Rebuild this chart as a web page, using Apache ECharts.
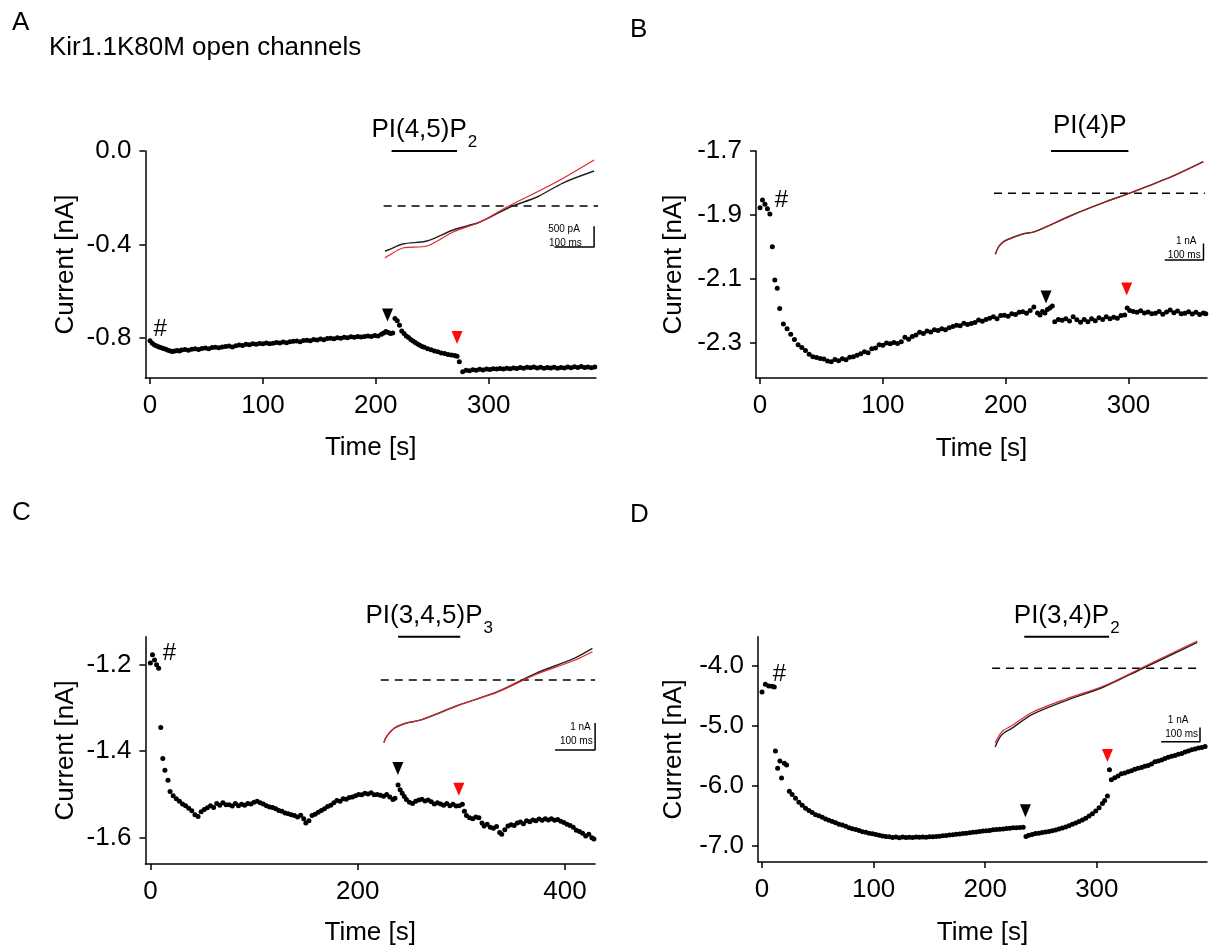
<!DOCTYPE html>
<html><head><meta charset="utf-8">
<script src="https://cdn.jsdelivr.net/npm/echarts@6/dist/echarts.min.js"></script>
<style>html,body{margin:0;padding:0;background:#fff}#chart{width:1212px;height:947px}</style>
</head><body><div id="chart"></div><script>
// ---------------- DATA ----------------
// Main time courses: [time s, current nA]
const dataA = [[0,-0.812],[2,-0.822],[4,-0.830],[6,-0.834],[8,-0.838],[10,-0.842],[12,-0.845],[14,-0.848],[16,-0.852],[18,-0.855],[20,-0.858],[22,-0.856],[24,-0.853],[26,-0.855],[28,-0.851],[31,-0.849],[34,-0.852],[37,-0.848],[40,-0.846],[43,-0.849],[46,-0.845],[49,-0.843],[52,-0.846],[55,-0.841],[58,-0.839],[61,-0.842],[64,-0.838],[67,-0.836],[70,-0.834],[73,-0.838],[76,-0.833],[79,-0.830],[82,-0.832],[85,-0.827],[88,-0.829],[91,-0.825],[94,-0.827],[97,-0.823],[100,-0.824],[103,-0.821],[106,-0.825],[109,-0.822],[112,-0.819],[115,-0.821],[118,-0.817],[121,-0.820],[124,-0.816],[127,-0.814],[130,-0.813],[133,-0.816],[136,-0.811],[139,-0.809],[142,-0.812],[145,-0.806],[148,-0.808],[151,-0.804],[154,-0.807],[157,-0.802],[160,-0.801],[163,-0.803],[166,-0.799],[169,-0.801],[172,-0.797],[175,-0.799],[178,-0.795],[181,-0.797],[184,-0.793],[187,-0.796],[190,-0.794],[193,-0.791],[196,-0.793],[199,-0.789],[202,-0.791],[205,-0.784],[207,-0.778],[209,-0.772],[211,-0.776],[213,-0.781],[215,-0.779],[217,-0.716],[219,-0.726],[221,-0.745],[223,-0.770],[225,-0.781],[227,-0.791],[229,-0.798],[231,-0.806],[233,-0.813],[235,-0.819],[237,-0.826],[239,-0.831],[241,-0.836],[243,-0.840],[246,-0.846],[249,-0.850],[252,-0.856],[255,-0.859],[258,-0.864],[261,-0.866],[264,-0.871],[267,-0.873],[270,-0.875],[272,-0.878],[274,-0.901],[277,-0.944],[280,-0.938],[283,-0.940],[286,-0.936],[289,-0.938],[292,-0.934],[295,-0.937],[298,-0.933],[301,-0.935],[304,-0.931],[307,-0.933],[310,-0.930],[313,-0.933],[316,-0.929],[319,-0.931],[322,-0.928],[325,-0.930],[328,-0.926],[331,-0.929],[334,-0.925],[337,-0.927],[340,-0.924],[343,-0.928],[346,-0.925],[349,-0.929],[352,-0.926],[355,-0.928],[358,-0.925],[361,-0.929],[364,-0.926],[367,-0.928],[370,-0.924],[373,-0.927],[376,-0.923],[379,-0.926],[382,-0.922],[385,-0.926],[388,-0.924],[391,-0.927],[394,-0.924]];
const dataB = [[0,-1.877],[2,-1.853],[4,-1.866],[6,-1.880],[8,-1.897],[10,-1.999],[12,-2.103],[14,-2.129],[16,-2.192],[19,-2.240],[22,-2.255],[25,-2.272],[28,-2.289],[31,-2.305],[34,-2.314],[37,-2.323],[40,-2.335],[43,-2.343],[46,-2.345],[49,-2.348],[52,-2.350],[55,-2.356],[58,-2.358],[61,-2.351],[64,-2.355],[67,-2.349],[70,-2.352],[73,-2.344],[76,-2.343],[79,-2.338],[82,-2.333],[85,-2.327],[88,-2.330],[91,-2.318],[94,-2.315],[97,-2.305],[100,-2.307],[103,-2.300],[106,-2.302],[109,-2.298],[112,-2.301],[115,-2.296],[118,-2.282],[121,-2.288],[124,-2.279],[127,-2.275],[130,-2.266],[133,-2.270],[136,-2.262],[139,-2.265],[142,-2.258],[145,-2.261],[148,-2.255],[151,-2.258],[154,-2.252],[157,-2.248],[160,-2.244],[163,-2.246],[166,-2.238],[169,-2.242],[172,-2.239],[175,-2.236],[178,-2.228],[181,-2.232],[184,-2.226],[187,-2.222],[190,-2.218],[193,-2.224],[196,-2.214],[199,-2.213],[202,-2.216],[205,-2.208],[208,-2.211],[211,-2.204],[214,-2.202],[217,-2.207],[220,-2.198],[223,-2.187],[226,-2.206],[228,-2.212],[230,-2.201],[232,-2.206],[234,-2.195],[236,-2.190],[238,-2.184],[240,-2.233],[243,-2.226],[246,-2.229],[249,-2.224],[252,-2.231],[255,-2.218],[258,-2.227],[261,-2.235],[264,-2.226],[267,-2.233],[270,-2.224],[273,-2.230],[276,-2.221],[279,-2.226],[282,-2.218],[285,-2.224],[288,-2.219],[291,-2.222],[294,-2.214],[297,-2.212],[299,-2.190],[301,-2.198],[304,-2.201],[307,-2.204],[310,-2.199],[313,-2.206],[316,-2.203],[319,-2.208],[322,-2.207],[325,-2.201],[328,-2.210],[331,-2.203],[334,-2.197],[337,-2.205],[340,-2.200],[343,-2.208],[346,-2.207],[349,-2.202],[352,-2.209],[355,-2.204],[358,-2.211],[361,-2.206],[363,-2.208]];
const dataC = [[0,-1.196],[2,-1.177],[4,-1.189],[6,-1.200],[8,-1.208],[10,-1.345],[12,-1.417],[14,-1.444],[17,-1.467],[19,-1.493],[22,-1.503],[25,-1.510],[28,-1.516],[31,-1.522],[34,-1.526],[37,-1.532],[40,-1.538],[43,-1.547],[46,-1.551],[49,-1.540],[52,-1.535],[55,-1.531],[58,-1.526],[61,-1.530],[64,-1.521],[67,-1.525],[70,-1.519],[73,-1.524],[76,-1.524],[79,-1.527],[82,-1.521],[85,-1.526],[88,-1.523],[91,-1.525],[94,-1.521],[97,-1.522],[100,-1.518],[103,-1.516],[106,-1.519],[109,-1.522],[112,-1.526],[115,-1.529],[118,-1.530],[121,-1.533],[124,-1.537],[127,-1.539],[130,-1.543],[133,-1.545],[136,-1.547],[139,-1.549],[142,-1.552],[145,-1.548],[148,-1.556],[150,-1.566],[153,-1.561],[156,-1.549],[159,-1.546],[162,-1.541],[165,-1.537],[168,-1.533],[171,-1.528],[174,-1.525],[177,-1.519],[180,-1.514],[183,-1.516],[186,-1.510],[189,-1.511],[192,-1.507],[195,-1.506],[198,-1.503],[201,-1.500],[204,-1.501],[207,-1.497],[210,-1.499],[213,-1.496],[216,-1.501],[219,-1.500],[222,-1.502],[225,-1.504],[228,-1.500],[231,-1.506],[234,-1.512],[236,-1.509],[239,-1.478],[241,-1.489],[243,-1.497],[245,-1.505],[247,-1.512],[250,-1.518],[253,-1.521],[256,-1.516],[259,-1.513],[262,-1.511],[265,-1.515],[268,-1.513],[271,-1.517],[274,-1.522],[277,-1.519],[280,-1.522],[283,-1.525],[286,-1.521],[289,-1.526],[292,-1.523],[295,-1.527],[298,-1.526],[301,-1.523],[303,-1.539],[305,-1.549],[308,-1.554],[311,-1.556],[314,-1.552],[317,-1.554],[320,-1.566],[322,-1.573],[325,-1.569],[328,-1.576],[331,-1.578],[334,-1.574],[337,-1.588],[339,-1.592],[342,-1.582],[345,-1.573],[348,-1.570],[351,-1.572],[354,-1.566],[357,-1.564],[360,-1.568],[363,-1.561],[366,-1.563],[369,-1.559],[372,-1.561],[375,-1.557],[378,-1.560],[381,-1.556],[384,-1.559],[387,-1.556],[390,-1.560],[393,-1.558],[396,-1.562],[399,-1.565],[402,-1.569],[405,-1.572],[408,-1.576],[411,-1.583],[414,-1.586],[417,-1.590],[420,-1.596],[423,-1.592],[426,-1.600],[428,-1.603]];
const dataD = [[0,-4.439],[3,-4.312],[6,-4.340],[9,-4.345],[11,-4.355],[12,-5.426],[14,-5.711],[16,-5.590],[17.5,-5.875],[20,-5.628],[22,-5.656],[24.5,-6.094],[27,-6.150],[30,-6.210],[33,-6.280],[36,-6.330],[39,-6.380],[42,-6.415],[45,-6.450],[48,-6.485],[51,-6.505],[54,-6.530],[57,-6.560],[60,-6.580],[63,-6.600],[66,-6.620],[69,-6.645],[72,-6.660],[75,-6.680],[78,-6.705],[81,-6.720],[84,-6.735],[87,-6.750],[90,-6.770],[93,-6.780],[96,-6.795],[99,-6.805],[102,-6.815],[105,-6.830],[108,-6.840],[111,-6.850],[114,-6.855],[117,-6.865],[120,-6.860],[123,-6.870],[126,-6.858],[129,-6.866],[132,-6.862],[135,-6.868],[138,-6.860],[141,-6.864],[144,-6.858],[147,-6.862],[150,-6.852],[153,-6.856],[156,-6.848],[159,-6.845],[162,-6.838],[165,-6.832],[168,-6.825],[171,-6.820],[174,-6.812],[177,-6.808],[180,-6.800],[183,-6.795],[186,-6.788],[189,-6.780],[192,-6.775],[195,-6.765],[198,-6.760],[201,-6.752],[204,-6.748],[207,-6.738],[210,-6.735],[213,-6.728],[216,-6.725],[219,-6.715],[222,-6.712],[225,-6.705],[228,-6.702],[231,-6.698],[234,-6.695],[236.5,-6.851],[239,-6.830],[242,-6.815],[245,-6.800],[248,-6.795],[251,-6.785],[254,-6.775],[257,-6.765],[260,-6.752],[263,-6.742],[266,-6.725],[269,-6.710],[272,-6.690],[275,-6.670],[278,-6.645],[281,-6.625],[284,-6.600],[287,-6.575],[290,-6.545],[293,-6.510],[296,-6.470],[299,-6.425],[302,-6.370],[305,-6.300],[307,-6.250],[309.5,-6.176],[311.3,-5.738],[313,-5.903],[316,-5.870],[319,-5.840],[322,-5.805],[325,-5.790],[328,-5.770],[331,-5.755],[334,-5.730],[337,-5.712],[340,-5.700],[343,-5.680],[346,-5.665],[349,-5.640],[352,-5.605],[355,-5.590],[358,-5.575],[361,-5.550],[364,-5.530],[367,-5.512],[370,-5.500],[373,-5.480],[376,-5.465],[379,-5.440],[382,-5.425],[385,-5.405],[388,-5.390],[391,-5.375],[394,-5.365],[397,-5.350]];

// Tick labels
const xTicksA = [0,100,200,300], yTicksA = [-0.8,-0.4,0.0];
const xTicksB = [0,100,200,300], yTicksB = [-2.3,-2.1,-1.9,-1.7];
const xTicksC = [0,200,400],     yTicksC = [-1.6,-1.4,-1.2];
const xTicksD = [0,100,200,300], yTicksD = [-7.0,-6.0,-5.0,-4.0];

// Application bars [start s, end s] and lipid names [main, subscript]
const barA = [214, 272], nameA = ['PI(4,5)P', '2'];
const barB = [237, 300], nameB = ['PI(4)P', ''];
const barC = [239, 299], nameC = ['PI(3,4,5)P', '3'];
const barD = [235, 311], nameD = ['PI(3,4)P', '2'];

// Arrowheads (black = application start, red = end) and '#' marker: [time s, current nA]
const arrowBlackA = [210.4, -0.702], arrowRedA = [272, -0.798], hashA = [8.9, -0.761];
const arrowBlackB = [232.9, -2.156], arrowRedB = [298.6, -2.131], hashB = [17.5, -1.853];
const arrowBlackC = [238.8, -1.440], arrowRedC = [297.6, -1.488], hashC = [18.4, -1.173];
const arrowBlackD = [236.0, -6.420], arrowRedD = [309.5, -5.497], hashD = [15.7, -4.148];

// Inset ramp currents: [time ms, current pA]
const insetBlackA = [[0,-1085],[8,-1060],[45,-916],[106,-843],[172,-578],[240,-386],[316,-24],[384,217],[449,554],[528,843]];
const insetRedA   = [[0,-1253],[8,-1200],[45,-1012],[106,-964],[172,-627],[240,-386],[308,-24],[384,337],[442,627],[528,1109]];
const insetBlackB = [[0,-3697],[6.7,-3315],[17,-3012],[29,-2830],[70.8,-2466],[101.5,-2327],[199,-1315],[286,-509],[353,61],[455.4,1006],[537.4,1915]];
const insetRedB   = [[0,-3697],[6.7,-3315],[17,-3012],[29,-2830],[70.8,-2466],[101.5,-2327],[199,-1315],[286,-509],[353,61],[455.4,1006],[537.4,1915]];
const insetBlackC = [[0,-2320],[6.5,-2098],[25.8,-1787],[54.5,-1602],[92.8,-1480],[188.3,-925],[284,-433],[379.8,248],[475.3,803],[521.3,1173]];
const insetRedC   = [[0,-2320],[6.5,-2098],[25.8,-1787],[54.5,-1602],[92.8,-1480],[188.3,-925],[284,-450],[379.8,204],[475.3,722],[521.3,1047]];
const insetBlackD = [[0,-5509],[16.5,-4669],[45.8,-4144],[94.8,-3234],[182.5,-2254],[280,-1309],[377.5,-49],[522,1806]];
const insetRedD   = [[0,-5229],[16.5,-4459],[45.8,-3969],[94.8,-3094],[182.5,-2149],[280,-1239],[377.5,21],[522,1911]];

// Zero-current dashed line extents [ms, ms]
const zeroA = [-3.5, 538], zeroB = [-3.6, 542], zeroC = [-7.8, 528], zeroD = [-7.8, 529];
// Scale bars: [x start ms, x end ms, y pA, vertical size pA] and their labels [text, ms, pA]
const scaleA = [428, 528, -988, 500],   scaleTextA = [['500 pA', 492, -554], ['100 ms', 497, -892]];
const scaleB = [438, 538, -4042, 1000], scaleTextB = [['1 nA', 520, -2890], ['100 ms', 530.6, -3739]];
const scaleC = [428, 528, -2590, 1000], scaleTextC = [['1 nA', 517, -1765], ['100 ms', 522, -2283]];
const scaleD = [429, 529, -5138, 1000], scaleTextD = [['1 nA', 499, -3619], ['100 ms', 524, -4620]];

// ---------------- LAYOUT ----------------
const FONT = '"Liberation Sans", Arial, Helvetica, sans-serif';
const FS = 26;
const layouts = {
  A: {grid:{left:145.4, top:151, width:450.5, height:227}, x:[-4.1,395], y:[-0.971,0.0], xGap:57, yGap:67,
      inset:{px0:385, ppx:0.396, py0:206, ppy:1/24.1, ms:[-20,560], pa:[-1500,1500]}},
  B: {grid:{left:756, top:151, width:451, height:227}, x:[-3.3,364], y:[-2.409,-1.7], xGap:58, yGap:69,
      inset:{px0:995.4, ppx:0.39, py0:193.3, ppy:0.0165, ms:[-20,560], pa:[-4500,2500]}},
  C: {grid:{left:145.4, top:636.7, width:449.6, height:230}, x:[-4.8,429], y:[-1.661,-1.135], xGap:56, yGap:67,
      inset:{px0:383.9, ppx:0.40, py0:680, ppy:0.027, ms:[-20,560], pa:[-3000,1500]}},
  D: {grid:{left:758, top:636.7, width:449, height:228.3}, x:[-3.6,398.7], y:[-7.275,-3.518], xGap:58, yGap:71,
      inset:{px0:995.4, ppx:0.40, py0:668.3, ppy:0.0143, ms:[-20,560], pa:[-6000,2500]}}
};
const panels = [
  {k:'A', data:dataA, xt:xTicksA, yt:yTicksA, bar:barA, name:nameA, ab:arrowBlackA, ar:arrowRedA, hash:hashA, ib:insetBlackA, ir:insetRedA, zero:zeroA, sc:scaleA, st:scaleTextA},
  {k:'B', data:dataB, xt:xTicksB, yt:yTicksB, bar:barB, name:nameB, ab:arrowBlackB, ar:arrowRedB, hash:hashB, ib:insetBlackB, ir:insetRedB, zero:zeroB, sc:scaleB, st:scaleTextB},
  {k:'C', data:dataC, xt:xTicksC, yt:yTicksC, bar:barC, name:nameC, ab:arrowBlackC, ar:arrowRedC, hash:hashC, ib:insetBlackC, ir:insetRedC, zero:zeroC, sc:scaleC, st:scaleTextC},
  {k:'D', data:dataD, xt:xTicksD, yt:yTicksD, bar:barD, name:nameD, ab:arrowBlackD, ar:arrowRedD, hash:hashD, ib:insetBlackD, ir:insetRedD, zero:zeroD, sc:scaleD, st:scaleTextD}
];

const option = {animation:false, backgroundColor:'#fff', grid:[], xAxis:[], yAxis:[], series:[], graphic:[]};
const ink = '#000';
const axisLine = {show:true, onZero:false, lineStyle:{color:ink, width:1.5}};

panels.forEach((P, i) => {
  const L = layouts[P.k];
  const gi = i * 2, ii = i * 2 + 1;
  option.grid.push(Object.assign({containLabel:false}, L.grid));
  option.xAxis.push({gridIndex:gi, type:'value', min:L.x[0], max:L.x[1], axisLine,
    axisTick:{show:true, customValues:P.xt, length:6, lineStyle:{color:ink, width:1.5}},
    axisLabel:{customValues:P.xt, fontSize:FS, color:ink, margin:15, fontFamily:FONT},
    splitLine:{show:false}, name:'Time [s]', nameLocation:'middle', nameGap:L.xGap,
    nameTextStyle:{fontSize:FS, color:ink, fontFamily:FONT}});
  option.yAxis.push({gridIndex:gi, type:'value', min:L.y[0], max:L.y[1], axisLine,
    axisTick:{show:true, customValues:P.yt, length:6, lineStyle:{color:ink, width:1.5}},
    axisLabel:{customValues:P.yt, fontSize:FS, color:ink, margin:14, fontFamily:FONT, formatter:v => v.toFixed(1)},
    splitLine:{show:false}, name:'Current [nA]', nameLocation:'middle', nameGap:L.yGap,
    nameTextStyle:{fontSize:FS, color:ink, fontFamily:FONT}});
  const I = L.inset;
  option.grid.push({containLabel:false, left:I.px0 + I.ms[0]*I.ppx, width:(I.ms[1]-I.ms[0])*I.ppx,
    top:I.py0 - I.pa[1]*I.ppy, height:(I.pa[1]-I.pa[0])*I.ppy});
  option.xAxis.push({gridIndex:ii, type:'value', min:I.ms[0], max:I.ms[1], show:false});
  option.yAxis.push({gridIndex:ii, type:'value', min:I.pa[0], max:I.pa[1], show:false});

  const top = L.y[1];
  // main scatter
  option.series.push({type:'scatter', xAxisIndex:gi, yAxisIndex:gi, data:P.data, symbolSize:5,
    itemStyle:{color:'#000', opacity:1}, silent:true, z:3});
  // application bar
  option.series.push({type:'line', xAxisIndex:gi, yAxisIndex:gi, data:[[P.bar[0], top],[P.bar[1], top]],
    symbol:'none', lineStyle:{color:ink, width:2}, silent:true, clip:false});
  option.series.push({type:'scatter', xAxisIndex:gi, yAxisIndex:gi, data:[[(P.bar[0]+P.bar[1])/2, top]],
    symbolSize:0, silent:true, clip:false, itemStyle:{opacity:1},
    label:{show:true, position:'top', distance: P.name[1] ? 4 : 8, color:ink, opacity:1, fontFamily:FONT,
      formatter: () => '{m|' + P.name[0] + '}' + (P.name[1] ? '{s|' + P.name[1] + '}' : ''),
      rich:{m:{fontSize:FS, lineHeight:30, verticalAlign:'top', fontFamily:FONT, color:ink},
            s:{fontSize:17, lineHeight:17, verticalAlign:'top', padding:[17,0,0,1], fontFamily:FONT, color:ink}}}});
  // arrowheads
  option.series.push({type:'scatter', xAxisIndex:gi, yAxisIndex:gi, symbol:'triangle', symbolRotate:180,
    symbolSize:[11,13], silent:true, z:4,
    data:[{value:P.ab, itemStyle:{color:'#000', opacity:1}}, {value:P.ar, itemStyle:{color:'#ff0a0a', opacity:1}}]});
  // '#'
  option.series.push({type:'scatter', xAxisIndex:gi, yAxisIndex:gi, data:[P.hash], symbolSize:0, silent:true,
    itemStyle:{opacity:1},
    label:{show:true, position:'inside', formatter:'#', fontSize:24, color:ink, opacity:1, fontFamily:FONT}});
  // inset: zero line, traces, scale bar
  option.series.push({type:'line', xAxisIndex:ii, yAxisIndex:ii, data:[[P.zero[0],0],[P.zero[1],0]], symbol:'none',
    lineStyle:{color:ink, width:1.5, type:[8,6]}, silent:true, clip:false});
  option.series.push({type:'line', xAxisIndex:ii, yAxisIndex:ii, data:P.ib, symbol:'none', smooth:0.3,
    lineStyle:{color:'#222', width:1.4}, silent:true, clip:false});
  option.series.push({type:'line', xAxisIndex:ii, yAxisIndex:ii, data:P.ir, symbol:'none', smooth:0.3,
    lineStyle:{color: P.k === 'B' ? '#b02025' : '#e3262d', width:1.2}, silent:true, clip:false});
  option.series.push({type:'line', xAxisIndex:ii, yAxisIndex:ii,
    data:[[P.sc[0], P.sc[2]], [P.sc[1], P.sc[2]], [P.sc[1], P.sc[2] + P.sc[3]]], symbol:'none',
    lineStyle:{color:ink, width:1.5}, silent:true, clip:false});
  option.series.push({type:'scatter', xAxisIndex:ii, yAxisIndex:ii, symbolSize:0, silent:true, clip:false,
    itemStyle:{opacity:1},
    data:P.st.map(s => ({value:[s[1], s[2]], name:s[0]})),
    label:{show:true, position:'left', distance:0, formatter:p => p.name, fontSize:10, color:ink, opacity:1, fontFamily:FONT}});
});

// panel letters and title
const letters = [['A', 12, 10], ['B', 630, 17], ['C', 12, 500], ['D', 630, 502]];
letters.forEach(l => option.graphic.push({type:'text', left:l[1], top:l[2],
  style:{text:l[0], fontSize:26, fill:ink, fontFamily:FONT}}));
option.graphic.push({type:'text', left:49, top:35, style:{text:'Kir1.1K80M open channels', fontSize:26, fill:ink, fontFamily:FONT}});

const chart = echarts.init(document.getElementById('chart'), null, {renderer:'canvas'});
chart.setOption(option);
</script></body></html>
